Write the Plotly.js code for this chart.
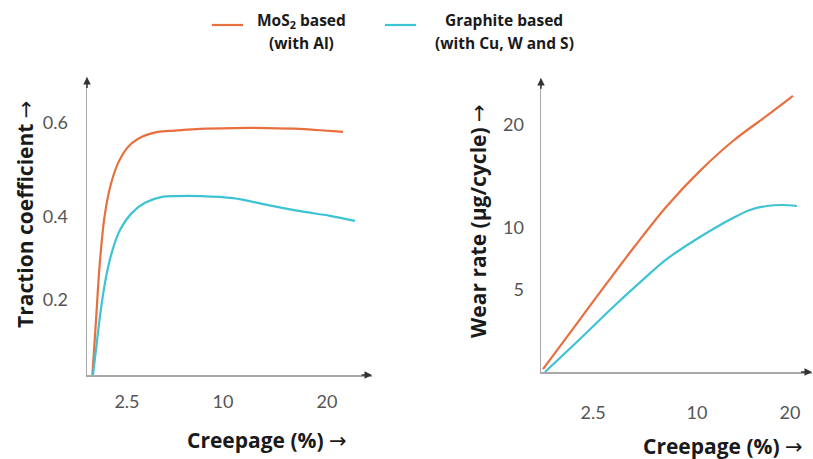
<!DOCTYPE html>
<html><head><meta charset="utf-8">
<script src="https://cdn.plot.ly/plotly-3.0.1.min.js"></script>
<style>html,body{margin:0;padding:0;background:#fff}#chart{width:813px;height:459px}</style>
</head><body><div id="chart"></div>
<script>
// Left panel: traction coefficient vs creepage (schematic axis positions)
const tracX_mos2 = [0.45,0.75,1.05,1.45,1.95,2.6,3.42,4.58,5.92,7.33,9.42,12.17,15.0,17.75,20.25,21.33];
const tracY_mos2 = [0,0.13,0.26,0.375,0.45,0.505,0.543,0.567,0.579,0.582,0.586,0.588,0.588,0.586,0.581,0.579];
const tracX_graph = [0.5,0.85,1.2,1.6,2.1,2.75,3.75,4.83,6.25,7.33,9.42,12.17,15.0,17.75,20.25,22.33];
const tracY_graph = [0,0.085,0.165,0.235,0.295,0.345,0.386,0.410,0.424,0.426,0.426,0.421,0.405,0.390,0.379,0.367];
// Right panel: wear rate vs creepage
const wearX_mos2 = [0.16,2.73,5.30,7.55,10.12,12.77,15.42,18.15,20.24];
const wearY_mos2 = [0.24,3.72,7.21,10.20,13.44,16.28,18.70,20.75,22.35];
const wearX_graph = [0.32,3.13,5.54,7.95,10.12,12.77,15.42,16.79,18.15,19.36,20.56];
const wearY_graph = [0,2.67,5.02,7.25,9.15,10.93,12.47,13.12,13.44,13.52,13.44];
// Tick labels
const leftXTickVals = [3.33,11.33,20];
const leftXTickText = ["2.5","10","20"];
const leftYTickVals = [0.179,0.376,0.6];
const leftYTickText = ["0.2","0.4","0.6"];
const rightXTickVals = [4.18,12.53,20];
const rightXTickText = ["2.5","10","20"];
const rightYTickVals = [6.64,11.66,20];
const rightYTickText = ["5","10","20"];
const seriesLine1 = ["MoS<sub>2</sub> based","Graphite based"];
const seriesLine2 = ["(with Al)","(with Cu, W and S)"];
const ARROW = '<span style="font-family:\'DejaVu Sans\';font-weight:normal">→</span>';
const xTitle = 'Creepage (%) ' + ARROW;
const yTitleLeft = 'Traction coefficient ' + ARROW;
const yTitleRight = 'Wear rate (µg/cycle) ' + ARROW;

const ORANGE = '#E8703F', CYAN = '#3EC3D5';
const lw = 2.2;
const ln = c => ({color:c,width:lw,shape:'spline',smoothing:1});
const traces = [
  {x:tracX_mos2,y:tracY_mos2,xaxis:'x',yaxis:'y',mode:'lines',line:ln(ORANGE),showlegend:false},
  {x:tracX_graph,y:tracY_graph,xaxis:'x',yaxis:'y',mode:'lines',line:ln(CYAN),showlegend:false},
  {x:wearX_mos2,y:wearY_mos2,xaxis:'x2',yaxis:'y2',mode:'lines',line:ln(ORANGE),showlegend:false},
  {x:wearX_graph,y:wearY_graph,xaxis:'x2',yaxis:'y2',mode:'lines',line:ln(CYAN),showlegend:false}
];
const tickFont = {family:'Lato, "Open Sans", sans-serif', size:18, color:'#555'};
const axBase = {showgrid:false, zeroline:false, showline:true, linecolor:'#a8a8a8', linewidth:1.5, ticks:'', tickmode:'array', tickfont:tickFont, fixedrange:true};
const titleFont = {family:'"Open Sans", sans-serif', size:21, color:'#1a1a1a', weight:700};
const legFont = {family:'"Open Sans", sans-serif', size:15.5, color:'#1a1a1a', weight:700};

const L = {x0:0, x1:23.75, y0:0, y1:0.7095};
const R = {x0:0, x1:21.77, y0:0, y1:23.8};
const legAnn = (txt, xpx, ypx) => ({xref:'paper',yref:'paper',x:xpx/813,y:1-ypx/459,text:txt,showarrow:false,font:legFont,xanchor:'center',yanchor:'middle'});
const layout = {
  width:813, height:459, margin:{l:0,r:0,t:0,b:0}, paper_bgcolor:'#fff', plot_bgcolor:'#fff', showlegend:false,
  xaxis:Object.assign({}, axBase, {domain:[87/813,372/813], range:[L.x0,L.x1], tickvals:leftXTickVals, ticktext:leftXTickText, ticklabelstandoff:10, anchor:'y'}),
  yaxis:Object.assign({}, axBase, {domain:[1-375/459,1-77/459], range:[L.y0,L.y1], tickvals:leftYTickVals, ticktext:leftYTickText, ticklabelstandoff:14, anchor:'x'}),
  xaxis2:Object.assign({}, axBase, {domain:[541/813,812/813], range:[R.x0,R.x1], tickvals:rightXTickVals, ticktext:rightXTickText, ticklabelstandoff:24, anchor:'y2'}),
  yaxis2:Object.assign({}, axBase, {domain:[1-372/459,1-78/459], range:[R.y0,R.y1], tickvals:rightYTickVals, ticktext:rightYTickText, ticklabelstandoff:12, anchor:'x2'}),
  annotations:[
    {xref:'x',yref:'y',axref:'x',ayref:'y',x:L.x1,y:0,ax:L.x1-1,ay:0,text:'',showarrow:true,arrowhead:2,arrowsize:1,arrowwidth:1.5,arrowcolor:'#333'},
    {xref:'x',yref:'y',axref:'x',ayref:'y',x:0,y:L.y1,ax:0,ay:L.y1-0.03,text:'',showarrow:true,arrowhead:2,arrowsize:1,arrowwidth:1.5,arrowcolor:'#333'},
    {xref:'x2',yref:'y2',axref:'x2',ayref:'y2',x:R.x1,y:0,ax:R.x1-1,ay:0,text:'',showarrow:true,arrowhead:2,arrowsize:1,arrowwidth:1.5,arrowcolor:'#333'},
    {xref:'x2',yref:'y2',axref:'x2',ayref:'y2',x:0,y:R.y1,ax:0,ay:R.y1-1,text:'',showarrow:true,arrowhead:2,arrowsize:1,arrowwidth:1.5,arrowcolor:'#333'},
    {xref:'paper',yref:'paper',x:267/813,y:1-440/459,text:xTitle,showarrow:false,font:titleFont,xanchor:'center',yanchor:'middle'},
    {xref:'paper',yref:'paper',x:805/813,y:1-446/459,text:xTitle,showarrow:false,font:titleFont,xanchor:'right',yanchor:'middle'},
    {xref:'paper',yref:'paper',x:25/813,y:1-215/459,text:yTitleLeft,textangle:-90,showarrow:false,font:titleFont,xanchor:'center',yanchor:'middle'},
    {xref:'paper',yref:'paper',x:478/813,y:1-221/459,text:yTitleRight,textangle:-90,showarrow:false,font:titleFont,xanchor:'center',yanchor:'middle'},
    legAnn(seriesLine1[0], 301, 20), legAnn(seriesLine2[0], 301, 43),
    legAnn(seriesLine1[1], 504, 20), legAnn(seriesLine2[1], 504, 43)
  ],
  shapes:[
    {type:'line',xref:'paper',yref:'paper',x0:212/813,x1:243/813,y0:1-25/459,y1:1-25/459,line:{color:ORANGE,width:2.2}},
    {type:'line',xref:'paper',yref:'paper',x0:385/813,x1:416/813,y0:1-25/459,y1:1-25/459,line:{color:CYAN,width:2.2}}
  ]
};
Plotly.newPlot('chart', traces, layout, {staticPlot:true, displayModeBar:false});
</script></body></html>
